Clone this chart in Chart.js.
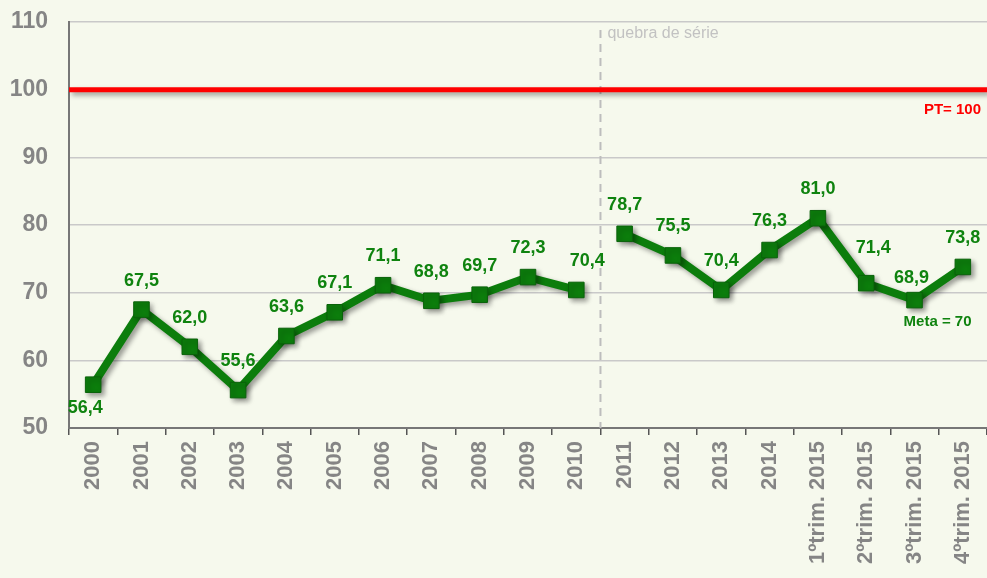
<!DOCTYPE html>
<html>
<head>
<meta charset="utf-8">
<script src="https://cdn.jsdelivr.net/npm/chart.js@4/dist/chart.umd.min.js"></script>
<style>
  html, body { margin: 0; padding: 0; background: #f6f9ed; }
  #wrap { width: 987px; height: 578px; }
</style>
</head>
<body>
<div id="wrap"><canvas id="c" width="987" height="578"></canvas></div>
<script>
// Categories (years, then 2015 quarters)
const categories = ['2000','2001','2002','2003','2004','2005','2006','2007','2008','2009','2010',
  '2011','2012','2013','2014','1ºtrim. 2015','2ºtrim. 2015','3ºtrim. 2015','4ºtrim. 2015'];

// Index values, first series (2000–2010)
const seriesOld = [56.4, 67.5, 62.0, 55.6, 63.6, 67.1, 71.1, 68.8, 69.7, 72.3, 70.4];
// Index values after the series break (2011 – 4º trim. 2015)
const seriesNew = [78.7, 75.5, 70.4, 76.3, 81.0, 71.4, 68.9, 73.8];

// Y axis ticks
const yTicks = [50, 60, 70, 80, 90, 100, 110];

// Reference values
const ptValue = 100;      // PT
const metaValue = 70;     // Meta
const breakAfter = '2010'; // last category before the series break

const GREEN = '#0c7d0c';
const GREEN_DARK = '#0a620a';
const LABEL_GREEN = '#0f830f';

// Pad each series with nulls so the two pieces are not joined
const dataOld = categories.map((c, i) => i < seriesOld.length ? seriesOld[i] : null);
const dataNew = categories.map((c, i) => i >= seriesOld.length ? seriesNew[i - seriesOld.length] : null);

// Label placement tweaks by category index: [dx, dy]
const labelShift = { 0: [-8, 23], 10: [11, -29], 16: [7, -35], 17: [-3, -22] };

const shadow = (ctx) => {
  ctx.shadowColor = 'rgba(0,0,0,0.38)';
  ctx.shadowBlur = 5;
  ctx.shadowOffsetX = 3;
  ctx.shadowOffsetY = 3;
};

const decorations = {
  id: 'decorations',
  beforeDatasetsDraw(chart) {
    const { ctx, chartArea: a, scales: { x, y } } = chart;
    // series break marker
    const ib = categories.indexOf(breakAfter);
    const xb = (x.getPixelForValue(ib) + x.getPixelForValue(ib + 1)) / 2;
    ctx.save();
    ctx.strokeStyle = '#bdbdbd';
    ctx.lineWidth = 2;
    ctx.setLineDash([8, 6]);
    ctx.beginPath();
    ctx.moveTo(xb, a.top + 8);
    ctx.lineTo(xb, a.bottom);
    ctx.stroke();
    ctx.restore();

    ctx.save();
    ctx.fillStyle = '#c2c2c2';
    ctx.font = '16px "Liberation Sans", Arial, sans-serif';
    ctx.textAlign = 'left';
    ctx.textBaseline = 'middle';
    ctx.fillText('quebra de série', xb + 7, a.top + 12);
    ctx.restore();

    // PT line
    const yp = y.getPixelForValue(ptValue);
    ctx.save();
    shadow(ctx);
    ctx.strokeStyle = '#ff0000';
    ctx.lineWidth = 5;
    ctx.beginPath();
    ctx.moveTo(a.left, yp);
    ctx.lineTo(a.right, yp);
    ctx.stroke();
    ctx.restore();

    ctx.save();
    ctx.fillStyle = '#ff0000';
    ctx.font = 'bold 15px "Liberation Sans", Arial, sans-serif';
    ctx.textAlign = 'right';
    ctx.textBaseline = 'middle';
    ctx.fillText('PT= ' + ptValue, a.right - 6, yp + 20);
    ctx.restore();

    ctx.save();
    shadow(ctx);
  },
  afterDatasetsDraw(chart) {
    const { ctx, scales: { x, y } } = chart;
    ctx.restore();
    ctx.save();
    ctx.font = 'bold 18px "Liberation Sans", Arial, sans-serif';
    ctx.fillStyle = LABEL_GREEN;
    ctx.textAlign = 'center';
    ctx.textBaseline = 'middle';
    chart.data.datasets.forEach((ds, di) => {
      const meta = chart.getDatasetMeta(di);
      ds.data.forEach((v, i) => {
        if (v === null) return;
        const p = meta.data[i];
        const s = labelShift[i] || [0, -29];
        ctx.fillText(v.toFixed(1).replace('.', ','), p.x + s[0], p.y + s[1]);
      });
    });
    // Meta label
    ctx.font = 'bold 15px "Liberation Sans", Arial, sans-serif';
    ctx.fillText('Meta = ' + metaValue, x.getPixelForValue(17) + 23, y.getPixelForValue(metaValue) + 29);
    ctx.restore();
  }
};

const dsStyle = {
  borderColor: GREEN,
  borderWidth: 8,
  pointStyle: 'rect',
  pointRadius: 11,
  pointBackgroundColor: GREEN,
  pointBorderColor: GREEN_DARK,
  pointBorderWidth: 1,
  spanGaps: false,
  tension: 0,
  fill: false
};

new Chart(document.getElementById('c'), {
  type: 'line',
  data: {
    labels: categories,
    datasets: [
      Object.assign({ label: '2000–2010', data: dataOld }, dsStyle),
      Object.assign({ label: '2011–2015', data: dataNew }, dsStyle)
    ]
  },
  options: {
    responsive: false,
    devicePixelRatio: 1,
    animation: false,
    events: [],
    layout: { autoPadding: false, padding: { top: 22, right: 0, left: 0, bottom: 0 } },
    plugins: { legend: { display: false }, tooltip: { enabled: false } },
    scales: {
      x: {
        type: 'category',
        offset: true,
        afterFit(s) { s.height = 150; s.paddingLeft = 0; s.paddingRight = 0; },
        grid: { display: true, drawOnChartArea: false, offset: true, tickLength: 7, color: '#555', lineWidth: 1.5 },
        border: { display: true, color: '#777', width: 2 },
        ticks: {
          autoSkip: false,
          minRotation: 90,
          maxRotation: 90,
          padding: 6,
          color: '#858585',
          font: { family: '"Liberation Sans", Arial, sans-serif', size: 22, weight: 'bold' }
        }
      },
      y: {
        min: 50,
        max: 110,
        afterFit(s) { s.width = 69; s.paddingTop = 0; s.paddingBottom = 0; },
        afterBuildTicks(s) { s.ticks = yTicks.map(v => ({ value: v })); },
        grid: { color: '#c9c9c9', lineWidth: 1.5, drawTicks: false },
        border: { display: true, color: '#777', width: 2 },
        ticks: {
          padding: 21,
          color: '#858585',
          font: { family: '"Liberation Sans", Arial, sans-serif', size: 23, weight: 'bold' }
        }
      }
    }
  },
  plugins: [decorations]
});
</script>
</body>
</html>
